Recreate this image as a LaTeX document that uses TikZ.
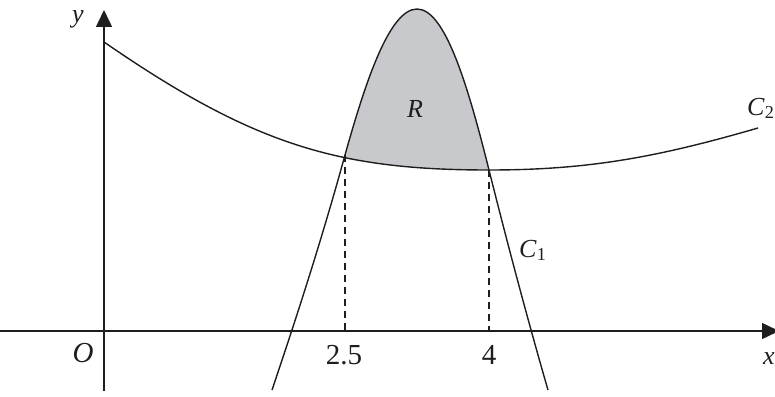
\documentclass[tikz,border=0pt]{standalone}
\usepackage{fontspec}
\setmainfont{Liberation Serif}
\usetikzlibrary{arrows.meta}
\definecolor{regiongray}{RGB}{200,201,204}
\definecolor{ink}{RGB}{30,30,30}
\begin{document}
\begin{tikzpicture}[x=1pt,y=-1pt,
  curve/.style={line width=1.4pt, ink},
  axis/.style={line width=1.5pt, ink, -{Triangle[length=17pt,width=16pt]}},
  guide/.style={line width=1.2pt, ink, dash pattern=on 7pt off 5pt},
  lbl/.style={font=\fontsize{26}{30}\selectfont, inner sep=0pt, ink},
  num/.style={font=\fontsize{29}{32}\selectfont, inner sep=0pt, ink}]
\useasboundingbox (0,0) rectangle (775,396);
% curve end points
\coordinate (c2a) at (104,42);
\coordinate (c2m) at (489,170);
\coordinate (c2b) at (758,128);
\coordinate (c1a) at (272,390);
\coordinate (P) at (345,155);
\coordinate (top) at (417,9);
\coordinate (Q) at (489,170);
\coordinate (c1b) at (548,390);
% shaded region R
\begin{scope}
  \clip (c1a) .. controls (299,310) and (323,235) .. (P)
        .. controls (364.6,85) and (389,9) .. (top)
        .. controls (445,9) and (467.75,85) .. (Q)
        .. controls (506.5,240) and (527.7,320) .. (c1b) -- cycle;
  \fill[regiongray] (c2a) .. controls (254,145.5) and (339,170) .. (c2m)
        .. controls (589,170) and (658,157) .. (c2b) -- (775,-10) -- (0,-10) -- cycle;
\end{scope}
% axes
\coordinate (xs) at (0,331);
\coordinate (xe) at (779,331);
\coordinate (ys) at (104,391);
\coordinate (ye) at (104,10);
\draw[axis] (xs) -- (xe);
\draw[axis] (ys) -- (ye);
% dashed guides
\coordinate (Pb) at (345,331);
\coordinate (Qb) at (489,331);
\draw[guide] (P) -- (Pb);
\draw[guide] (Q) -- (Qb);
% curve C2
\draw[curve] (c2a) .. controls (254,145.5) and (339,170) .. (c2m)
      .. controls (589,170) and (658,157) .. (c2b);
% curve C1
\draw[curve] (c1a) .. controls (299,310) and (323,235) .. (P)
      .. controls (364.6,85) and (389,9) .. (top)
      .. controls (445,9) and (467.75,85) .. (Q)
      .. controls (506.5,240) and (527.7,320) .. (c1b);
% labels
\node[lbl] (ylab) at (78,19) {\textit{y}};
\node[lbl] (xlab) at (769,359) {\textit{x}};
\node[num] (olab) at (83,353) {\textit{O}};
\node[num] (t25) at (344,355) {2.5};
\node[num] (t4) at (489,355) {4};
\node[lbl] (rlab) at (415,109) {\textit{R}};
\node[lbl, anchor=base west] (c1lab) at (519,257) {\textit{C}\textsubscript{1}};
\node[lbl, anchor=base west] (c2lab) at (747,115) {\textit{C}\textsubscript{2}};
\end{tikzpicture}
\end{document}
